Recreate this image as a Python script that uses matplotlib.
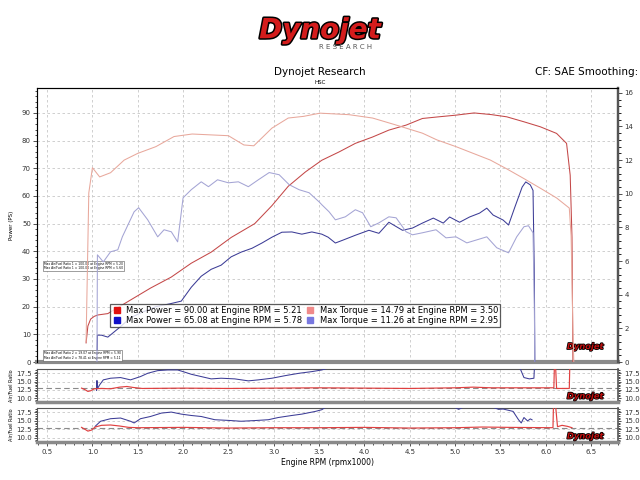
import matplotlib
matplotlib.use("Agg")
import matplotlib.pyplot as plt
import matplotlib.patheffects as pe
from matplotlib.lines import Line2D
from matplotlib.ticker import MultipleLocator

plt.rcParams["font.family"] = ["DejaVu Sans"]

# run 1 power (PS, left axis)
p1_rpm = [0.93, 0.95, 0.98, 1.02, 1.06, 1.17, 1.42, 1.64, 1.87, 2.09, 2.31, 2.53, 2.79,
          2.98, 3.16, 3.35, 3.53, 3.72, 3.9, 4.09, 4.27, 4.46, 4.64, 4.82, 5.01, 5.21,
          5.4, 5.57, 5.76, 5.94, 6.12, 6.23, 6.27, 6.29, 6.30]
p1_val = [6.9, 13.0, 15.5, 16.5, 17.0, 17.5, 22.4, 26.7, 30.7, 35.7, 39.7, 45.0, 50.0,
          56.5, 63.5, 68.7, 72.9, 75.9, 79.0, 81.3, 83.8, 85.6, 88.0, 88.6, 89.2, 90.0,
          89.4, 88.6, 86.8, 85.0, 82.6, 79.0, 67.5, 45.0, 0.0]

# run 1 torque (right axis)
t1_rpm = [0.93, 0.96, 1.0, 1.08, 1.2, 1.35, 1.5, 1.7, 1.9, 2.1, 2.3, 2.5, 2.67, 2.78,
          2.98, 3.16, 3.33, 3.51, 3.83, 4.09, 4.34, 4.64, 4.8, 5.01, 5.2, 5.39, 5.58,
          5.76, 5.95, 6.12, 6.26, 6.28, 6.30, 6.31]
t1_val = [1.2, 10.05, 11.55, 11.0, 11.25, 12.0, 12.4, 12.8, 13.4, 13.55, 13.5, 13.45,
          12.9, 12.85, 13.9, 14.5, 14.6, 14.79, 14.7, 14.5, 14.1, 13.6, 13.2, 12.8, 12.4,
          12.0, 11.45, 10.9, 10.3, 9.75, 9.15, 7.5, 2.0, 0.0]

# run 2 power
p2_rpm = [1.05, 1.055, 1.1, 1.17, 1.3, 1.42, 1.55, 1.7, 1.85, 1.98, 2.09, 2.2, 2.31,
          2.42, 2.53, 2.64, 2.76, 2.87, 2.98, 3.09, 3.2, 3.31, 3.42, 3.53, 3.6, 3.68,
          3.76, 3.9, 4.05, 4.16, 4.27, 4.42, 4.53, 4.64, 4.76, 4.87, 4.94, 5.05, 5.16,
          5.27, 5.35, 5.42, 5.53, 5.59, 5.66, 5.74, 5.78, 5.83, 5.86, 5.875, 5.88]
p2_val = [0.0, 9.7, 9.7, 9.0, 12.5, 16.0, 18.0, 20.0, 21.0, 22.0, 27.0, 31.0, 33.5,
          35.0, 38.0, 39.7, 41.1, 43.0, 45.1, 46.9, 47.0, 46.2, 47.0, 46.2, 45.1, 43.0,
          44.0, 45.8, 47.6, 46.5, 50.5, 47.6, 48.4, 50.2, 52.0, 50.2, 52.4, 50.5, 52.4,
          53.8, 55.6, 53.1, 51.3, 49.5, 56.0, 63.2, 65.08, 64.0, 62.0, 30.0, 0.0]

# run 2 torque
t2_rpm = [1.05, 1.055, 1.12, 1.2, 1.28, 1.33, 1.46, 1.51, 1.61, 1.72, 1.79, 1.87, 1.94,
          2.0, 2.09, 2.2, 2.28, 2.38, 2.5, 2.61, 2.72, 2.83, 2.95, 3.06, 3.17, 3.28,
          3.39, 3.5, 3.53, 3.61, 3.68, 3.79, 3.9, 3.98, 4.07, 4.16, 4.27, 4.35, 4.46,
          4.53, 4.64, 4.79, 4.9, 5.01, 5.13, 5.24, 5.35, 5.46, 5.59, 5.68, 5.76, 5.81,
          5.86, 5.875, 5.88]
t2_val = [0.0, 6.37, 5.95, 6.55, 6.67, 7.44, 8.93, 9.17, 8.45, 7.44, 7.86, 7.74, 7.14,
          9.76, 10.24, 10.71, 10.42, 10.83, 10.65, 10.71, 10.42, 10.83, 11.26, 11.13,
          10.54, 10.24, 10.06, 9.52, 9.35, 8.93, 8.45, 8.63, 9.05, 8.87, 8.04, 8.27,
          8.63, 8.57, 7.74, 7.56, 7.68, 7.86, 7.38, 7.44, 7.08, 7.26, 7.44, 6.79, 6.49,
          7.44, 8.04, 8.1, 7.68, 3.0, 0.0]

# air/fuel ratio, upper strip
afr1_blue_rpm = [1.045, 1.05, 1.055, 1.08, 1.12, 1.2, 1.31, 1.42, 1.53, 1.61, 1.72, 1.83,
                 1.94, 2.0, 2.09, 2.2, 2.31, 2.42, 2.57, 2.72, 2.83, 2.98, 3.13, 3.28,
                 3.42, 3.53, 3.65, 4.5, 5.6, 5.72, 5.76, 5.82, 5.87, 5.88]
afr1_blue = [12.3, 15.3, 12.8, 14.0, 15.5, 16.0, 16.2, 15.5, 16.5, 17.5, 18.3, 18.5,
             18.5, 18.0, 17.2, 16.5, 15.8, 16.0, 15.8, 15.2, 15.5, 16.0, 16.8, 17.5,
             18.0, 18.5, 19.5, 21.0, 20.0, 18.8, 16.2, 15.8, 16.0, 22.0]
afr1_red_rpm = [0.88, 0.92, 0.95, 0.98, 1.02, 1.1, 1.2, 1.3, 1.38, 1.45, 1.55, 2.0, 2.5,
                3.0, 3.5, 4.0, 4.5, 5.0, 5.2, 5.4, 5.8, 6.09, 6.10, 6.12, 6.26, 6.27]
afr1_red = [13.0, 12.5, 12.0, 12.2, 12.8, 12.9, 12.8, 13.3, 13.5, 13.2, 12.9, 13.0, 12.9,
            13.0, 13.1, 13.0, 12.9, 13.1, 13.3, 13.1, 13.1, 13.1, 25.0, 12.9, 12.9, 25.0]

# air/fuel ratio, lower strip
afr2_blue_rpm = [1.03, 1.09, 1.2, 1.31, 1.42, 1.46, 1.53, 1.64, 1.76, 1.87, 1.98, 2.09,
                 2.2, 2.35, 2.5, 2.64, 2.79, 2.94, 3.05, 3.2, 3.31, 3.46, 3.53, 3.6, 4.5,
                 4.98, 5.04, 5.1, 5.4, 5.48, 5.53, 5.64, 5.7, 5.73, 5.76, 5.8, 5.83, 5.85]
afr2_blue = [13.4, 14.9, 15.65, 15.85, 14.9, 14.4, 15.65, 16.3, 17.3, 17.6, 17.0, 16.6,
             16.3, 15.35, 15.15, 14.9, 15.1, 15.35, 16.0, 16.6, 17.0, 17.8, 18.3, 19.5,
             19.5, 19.2, 18.4, 19.2, 19.2, 18.4, 18.5, 17.8, 15.35, 14.4, 16.0, 15.0,
             15.6, 15.3]
afr2_red_rpm = [0.88, 0.92, 0.95, 0.99, 1.03, 1.1, 1.2, 1.3, 1.4, 1.5, 2.0, 2.5, 3.0, 3.5,
                4.0, 4.5, 5.0, 5.3, 5.6, 6.08, 6.09, 6.13, 6.18, 6.24, 6.29]
afr2_red = [13.1, 12.5, 12.0, 12.3, 13.2, 13.7, 13.8, 13.5, 13.1, 13.0, 13.1, 12.9, 13.0,
            13.0, 13.1, 12.9, 13.0, 13.2, 13.1, 13.0, 25.0, 13.3, 13.7, 13.4, 13.0]

legend_labels = ["Max Power = 90.00 at Engine RPM = 5.21",
                 "Max Power = 65.08 at Engine RPM = 5.78",
                 "Max Torque = 14.79 at Engine RPM = 3.50",
                 "Max Torque = 11.26 at Engine RPM = 2.95"]

c_p1, c_t1 = "#c44848", "#e8a89c"
c_p2, c_t2 = "#3c3c96", "#a4a4d4"
grid_kw = dict(color="#c8c8c8", linestyle=(0, (3, 3)), linewidth=0.6)


def small_logo(ax):
    ax.text(0.975, 0.04, "Dynojet", transform=ax.transAxes, ha="right", va="bottom",
            fontsize=6, fontweight="bold", style="italic", color="#c01010",
            path_effects=[pe.withStroke(linewidth=1.2, foreground="black")], zorder=6)


fig = plt.figure(figsize=(6.4, 4.8), dpi=100)

# header
fig.text(0.5, 0.937, "Dynojet", ha="center", va="center", fontsize=20, fontweight="heavy",
         style="italic", color="#d41c1c",
         path_effects=[pe.withStroke(linewidth=2.2, foreground="black")])
fig.text(0.54, 0.902, "R E S E A R C H", ha="center", va="center", fontsize=5,
         color="#555555")
fig.text(0.5, 0.85, "Dynojet Research", ha="center", va="center", fontsize=7.5)
fig.text(0.5, 0.829, "HSC", ha="center", va="center", fontsize=4)
fig.text(0.997, 0.85, "CF: SAE Smoothing:", ha="right", va="center", fontsize=7.5)

ax = fig.add_axes([0.058, 0.2458, 0.908, 0.5708])
ax.plot(p1_rpm, p1_val, color=c_p1, lw=0.75, zorder=3)
ax.plot(p2_rpm, p2_val, color=c_p2, lw=0.75, zorder=3)
ax.set_xlim(0.39, 6.8)
ax.set_ylim(0, 99)
ax.xaxis.set_major_locator(MultipleLocator(0.5))
ax.yaxis.set_major_locator(MultipleLocator(10))
ax.yaxis.set_minor_locator(MultipleLocator(2))
ax.tick_params(axis="x", bottom=False, labelbottom=False)
ax.tick_params(axis="y", labelsize=5, length=3, width=0.6, pad=1.5, colors="#333333")
ax.tick_params(axis="y", which="minor", length=1.8, width=0.5)
ax.set_ylabel("Power (PS)", fontsize=4, labelpad=6)
ax.grid(True, **grid_kw)
for s in ["top", "left"]:
    ax.spines[s].set_color("#555555")
    ax.spines[s].set_linewidth(0.8)
ax.spines["bottom"].set_color("#8a8a8a")
ax.spines["bottom"].set_linewidth(3)
ax.spines["right"].set_color("#555555")
ax.spines["right"].set_linewidth(1.6)

axt = ax.twinx()
axt.plot(t1_rpm, t1_val, color=c_t1, lw=0.75, zorder=3)
axt.plot(t2_rpm, t2_val, color=c_t2, lw=0.75, zorder=3)
axt.set_ylim(0, 99 / 6.08)
axt.yaxis.set_major_locator(MultipleLocator(2))
axt.yaxis.set_minor_locator(MultipleLocator(0.4))
axt.tick_params(axis="y", labelsize=5, length=3, width=0.6, pad=1.5, colors="#333333")
axt.tick_params(axis="y", which="minor", length=2, width=0.6)
axt.spines["right"].set_color("#555555")
axt.spines["right"].set_linewidth(1.6)
axt.spines["bottom"].set_visible(False)

handles = [Line2D([], [], ls="", marker="s", ms=4.5, color=c) for c in
           ["#e01010", "#1010c8", "#f08a8a", "#7878e0"]]
leg = axt.legend(handles, legend_labels, ncol=2, loc="lower left",
                 bbox_to_anchor=(0.125, 0.127), fontsize=6, frameon=True, fancybox=False,
                 borderpad=0.25, handlelength=1.2, handletextpad=0.5, columnspacing=0.4,
                 labelspacing=0.15, borderaxespad=0)
leg.get_frame().set_edgecolor("#333333")
leg.get_frame().set_linewidth(0.9)
leg.set_zorder(10)

tiny_kw = dict(fontsize=2.2, ha="left", va="bottom",
               bbox=dict(boxstyle="square,pad=0.3", fc="white", ec="#555555", lw=0.4))
ax.text(0.012, 0.335, "Max Air/Fuel Ratio 1 = 100.00 at Engine RPM = 5.20\n"
        "Max Air/Fuel Ratio 1 = 100.00 at Engine RPM = 5.60", transform=ax.transAxes,
        zorder=8, **tiny_kw)
ax.text(0.012, 0.008, "Max Air/Fuel Ratio 2 = 19.07 at Engine RPM = 5.90\n"
        "Max Air/Fuel Ratio 2 = 78.41 at Engine RPM = 5.11", transform=ax.transAxes,
        zorder=8, **tiny_kw)
small_logo(ax)

# air/fuel strips
a1 = fig.add_axes([0.058, 0.1625, 0.908, 0.0688])
a2 = fig.add_axes([0.058, 0.0792, 0.908, 0.0708])
a1.plot(afr1_blue_rpm, afr1_blue, color=c_p2, lw=0.75, zorder=3)
a1.plot(afr1_red_rpm, afr1_red, color="#e04040", lw=0.85, zorder=3)
a2.plot(afr2_blue_rpm, afr2_blue, color=c_p2, lw=0.75, zorder=3)
a2.plot(afr2_red_rpm, afr2_red, color="#e04040", lw=0.85, zorder=3)
for a in (a1, a2):
    a.axhline(13.0, color="#8a8a8a", lw=0.8, ls=(0, (5, 3)), zorder=2)
    a.set_xlim(0.39, 6.8)
    a.set_ylim(8.8, 18.8)
    a.xaxis.set_major_locator(MultipleLocator(0.5))
    a.xaxis.set_minor_locator(MultipleLocator(0.1))
    a.yaxis.set_major_locator(MultipleLocator(2.5))
    a.yaxis.set_minor_locator(MultipleLocator(0.5))
    a.grid(True, **grid_kw)
    a.tick_params(axis="y", labelsize=5, length=2.5, width=0.6, pad=1.5, right=True,
                  labelright=True, colors="#333333")
    a.tick_params(axis="y", which="minor", length=1.5, width=0.5, right=True)
    a.set_ylabel("Air/Fuel Ratio", fontsize=3.5, labelpad=2)
    for s in ["top", "left"]:
        a.spines[s].set_color("#555555")
        a.spines[s].set_linewidth(0.8)
    a.spines["right"].set_color("#555555")
    a.spines["right"].set_linewidth(1.2)
    a.spines["bottom"].set_color("#8a8a8a")
    a.spines["bottom"].set_linewidth(2.5)
    small_logo(a)
a1.tick_params(axis="x", which="both", bottom=False, labelbottom=False)
a2.tick_params(axis="x", labelsize=5, length=3, width=0.6, pad=2, colors="#333333")
a2.tick_params(axis="x", which="minor", length=2, width=0.5)
a2.set_xlabel("Engine RPM (rpmx1000)", fontsize=5.5, labelpad=2)

plt.savefig("out.png", dpi=100)
